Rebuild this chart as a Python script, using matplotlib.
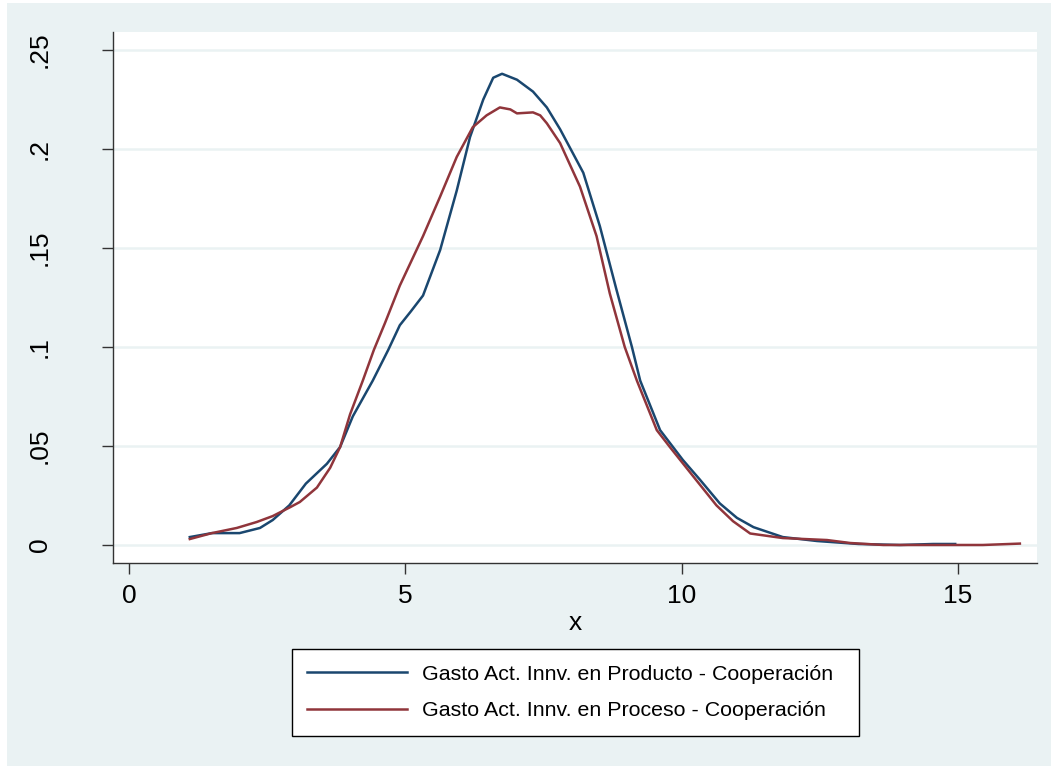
import matplotlib as mpl
import matplotlib.pyplot as plt
from matplotlib.patches import Rectangle

mpl.rcParams.update({"font.family": ["Liberation Sans", "DejaVu Sans"], "font.size": 19})

BG = "#eaf2f3"
COLOR_PROD = "#1a476f"
COLOR_PROC = "#90353b"

# Kernel density readings, product-innovation spend (cooperation)
x_prod = [1.1, 1.5, 2.0, 2.37, 2.6, 2.9, 3.2, 3.58, 3.82, 4.05, 4.41, 4.69, 4.9, 5.1,
          5.32, 5.63, 5.93, 6.17, 6.41, 6.59, 6.75, 7.02, 7.31, 7.56, 7.8, 8.22, 8.52,
          8.82, 9.1, 9.25, 9.61, 10.02, 10.33, 10.69, 11.0, 11.3, 11.83, 12.45, 13.2,
          13.95, 14.55, 14.95]
y_prod = [0.004, 0.006, 0.006, 0.0086, 0.0126, 0.020, 0.031, 0.041, 0.0495, 0.065,
          0.083, 0.0985, 0.111, 0.118, 0.126, 0.149, 0.179, 0.206, 0.225, 0.236, 0.238,
          0.235, 0.229, 0.221, 0.210, 0.188, 0.161, 0.129, 0.100, 0.083, 0.058, 0.043,
          0.033, 0.021, 0.0137, 0.009, 0.004, 0.002, 0.0005, 0.0, 0.0005, 0.0005]

# process-innovation spend (cooperation)
x_proc = [1.1, 1.5, 1.95, 2.31, 2.6, 2.91, 3.09, 3.4, 3.64, 3.82, 4.0, 4.23, 4.43, 4.63,
          4.9, 5.32, 5.63, 5.93, 6.22, 6.47, 6.71, 6.9, 7.02, 7.31, 7.44, 7.56, 7.8,
          8.16, 8.46, 8.7, 8.97, 9.19, 9.55, 9.8, 10.2, 10.63, 10.93, 11.24, 11.83,
          12.63, 13.05, 13.65, 15.45, 16.12]
y_proc = [0.003, 0.006, 0.0086, 0.0116, 0.0146, 0.019, 0.0217, 0.029, 0.039, 0.0495,
          0.066, 0.083, 0.0985, 0.112, 0.131, 0.156, 0.176, 0.196, 0.211, 0.217, 0.221,
          0.220, 0.218, 0.2185, 0.217, 0.213, 0.203, 0.181, 0.156, 0.127, 0.100, 0.083,
          0.058, 0.049, 0.035, 0.020, 0.012, 0.0058, 0.0035, 0.0025, 0.001, 0.0, 0.0,
          0.0007]

labels = ["Gasto Act. Innv. en Producto - Cooperación",
          "Gasto Act. Innv. en Proceso - Cooperación"]
xticks = [0, 5, 10, 15]
yticks = [0, 0.05, 0.1, 0.15, 0.2, 0.25]
yticklabels = ["0", ".05", ".1", ".15", ".2", ".25"]

W, H = 1058, 769
fig = plt.figure(figsize=(W / 100, H / 100), dpi=100, facecolor="white")
fig.patches.append(Rectangle((7 / W, 3 / H), 1044 / W, 763 / H, transform=fig.transFigure,
                             fc=BG, ec="none", zorder=-10))
ax = fig.add_axes([113 / W, 1 - 563 / H, 924 / W, 531 / H])
ax.set_facecolor("white")
ax.plot(x_prod, y_prod, color=COLOR_PROD, lw=1.8, label=labels[0])
ax.plot(x_proc, y_proc, color=COLOR_PROC, lw=1.8, label=labels[1])
ax.set_xlim(-0.29, 16.43); ax.set_ylim(-0.0091, 0.2591)
ax.set_xticks(xticks)
ax.set_yticks(yticks); ax.set_yticklabels(yticklabels, rotation=90, va="center")
for y in yticks:
    ax.axhline(y, color=BG, lw=1.8, zorder=0)
for s in ("top", "right"):
    ax.spines[s].set_visible(False)
for s in ("left", "bottom"):
    ax.spines[s].set_color("#333333"); ax.spines[s].set_linewidth(1.0)
ax.tick_params(length=8, width=1.0, color="#333333")
ax.tick_params(axis="x", pad=7)
ax.tick_params(axis="y", pad=36)
ax.set_xlabel("x", labelpad=2)
fig.legend(loc="center", bbox_to_anchor=(292 / W, 1 - 736 / H, 567 / W, 87 / H),
           mode="expand", fontsize=15.4, frameon=True, fancybox=False,
           edgecolor="black", framealpha=1, handlelength=4.65, handletextpad=0.7,
           borderpad=0.72, labelspacing=0.84, borderaxespad=0)
fig.savefig("out.png", dpi=100, facecolor="white")
